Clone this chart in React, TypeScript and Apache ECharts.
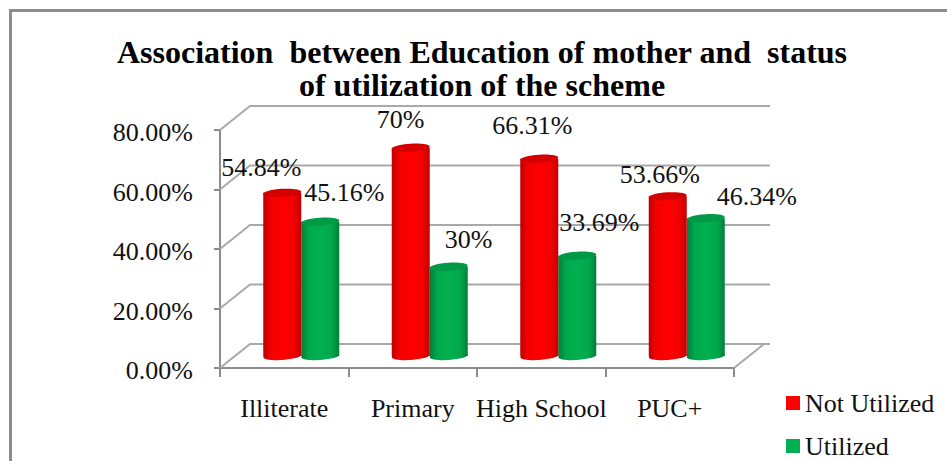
import React, { useEffect, useRef } from "react";
import * as echarts from "echarts";

const categories = ["Illiterate", "Primary", "High School", "PUC+"];
const notUtilized = [54.84, 70, 66.31, 53.66];
const utilized = [45.16, 30, 33.69, 46.34];
const wallTicks = [0, 20, 40, 60, 80];

const FONT = '"Liberation Serif", "Times New Roman", serif';
const DEPTH_X = 30;
const DEPTH_Y = 24;
const BAR_W = 38;
const BAR_NUDGE = 2;
const notUtilizedLabelShift = [[-59, -25], [-32, -28], [-45, -33], [-46, -22]];
const utilizedLabelShift = [[-14, -29], [-2, -27], [-16, -33], [13, -22]];

function wallItem(params: any, api: any) {
  const v = api.value(0);
  const cs = params.coordSys;
  const y = api.coord([0, v])[1];
  const x0 = cs.x;
  const x1 = cs.x + cs.width;
  const lineStyle = { stroke: "#A9A9A9", lineWidth: 2, fill: "none" };
  const children: any[] = [
    {
      type: "polyline",
      shape: { points: [[x0, y], [x0 + DEPTH_X, y - DEPTH_Y], [x1 + DEPTH_X + 6, y - DEPTH_Y]] },
      style: lineStyle,
    },
  ];
  if (v === 0) {
    children.push({
      type: "polyline",
      shape: { points: [[x1, y], [x1 + DEPTH_X, y - DEPTH_Y]] },
      style: lineStyle,
    });
  }
  return { type: "group", children };
}

function cylinder(side: number, edge: string, soft: string, mid: string, top: string, labelShift: number[][]) {
  return (params: any, api: any) => {
    const idx = api.value(0);
    const val = api.value(1);
    const base = api.coord([idx, 0]);
    const head = api.coord([idx, val]);
    const labelAnchor = base[0] + DEPTH_X / 2 + (side * BAR_W) / 2;
    const cx = labelAnchor + BAR_NUDGE;
    const by = base[1] - DEPTH_Y / 2;
    const ty = head[1] - DEPTH_Y / 2;
    const grad = new echarts.graphic.LinearGradient(0, 0, 1, 0, [
      { offset: 0, color: edge },
      { offset: 0.2, color: soft },
      { offset: 0.5, color: mid },
      { offset: 0.8, color: soft },
      { offset: 1, color: edge },
    ]);
    const shift = labelShift[params.dataIndex];
    return {
      type: "group",
      children: [
        {
          type: "ellipse",
          x: cx,
          y: by,
          rotation: 0.06,
          shape: { cx: 0, cy: 0, rx: BAR_W / 2, ry: 4 },
          style: { fill: grad },
        },
        {
          type: "rect",
          shape: { x: cx - BAR_W / 2, y: ty, width: BAR_W, height: by - ty },
          style: { fill: grad },
        },
        {
          type: "ellipse",
          x: cx,
          y: ty,
          rotation: 0.06,
          shape: { cx: 0, cy: 0, rx: BAR_W / 2, ry: 4 },
          style: { fill: top },
        },
        {
          type: "text",
          x: labelAnchor + shift[0],
          y: ty + shift[1],
          style: {
            text: `${val}%`,
            font: `26px ${FONT}`,
            fill: "#111",
            textAlign: "left",
            textVerticalAlign: "middle",
          },
        },
      ],
    };
  };
}

export default function App() {
  const ref = useRef<HTMLDivElement>(null);
  useEffect(() => {
    const chart = echarts.init(ref.current!, null, { renderer: "svg" });
    chart.setOption({
      animation: false,
      backgroundColor: "#fff",
      textStyle: { fontFamily: FONT },
      title: {
        text: "Association  between Education of mother and  status\nof utilization of the scheme",
        left: 477,
        top: 30,
        textAlign: "center",
        textStyle: { fontFamily: FONT, fontWeight: "bold", fontSize: 32, lineHeight: 33, color: "#000" },
      },
      legend: {
        orient: "vertical",
        left: 786,
        top: 388,
        height: 90,
        padding: 0,
        itemWidth: 14,
        itemHeight: 14,
        itemGap: 13,
        data: [
          { name: "Not Utilized", icon: "rect", itemStyle: { color: "#FF0000" } },
          { name: "Utilized", icon: "rect", itemStyle: { color: "#00B050" } },
        ],
        textStyle: { fontFamily: FONT, fontSize: 26, color: "#111", lineHeight: 30 },
      },
      grid: { left: 220, top: 130, width: 514, height: 238 },
      xAxis: {
        type: "category",
        data: categories,
        boundaryGap: true,
        axisLine: { lineStyle: { color: "#8C8C8C", width: 2 } },
        axisTick: { show: true, length: 9, lineStyle: { color: "#8C8C8C", width: 2 } },
        axisLabel: { fontFamily: FONT, fontSize: 26, color: "#111", margin: 27, interval: 0 },
      },
      yAxis: {
        type: "value",
        min: 0,
        max: 80,
        interval: 20,
        axisLine: { show: true, lineStyle: { color: "#8C8C8C", width: 2 } },
        axisTick: { show: true, length: 6, lineStyle: { color: "#8C8C8C", width: 2 } },
        splitLine: { show: false },
        axisLabel: {
          fontFamily: FONT,
          fontSize: 26,
          color: "#111",
          margin: 27,
          formatter: (v: number) => `{a|${v.toFixed(2)}%}`,
          rich: {
            a: { fontFamily: FONT, fontSize: 26, color: "#111", padding: [5, 0, 0, 0] },
          },
        },
      },
      graphic: [
        {
          type: "polyline",
          shape: { points: [[10.5, 461], [10.5, 10.5], [947, 10.5]] },
          style: { stroke: "#8C8C8C", lineWidth: 3, fill: "none" },
        },
      ],
      series: [
        {
          type: "custom",
          name: "walls",
          silent: true,
          z: 1,
          data: wallTicks.map((v) => [v]),
          encode: { y: 0 },
          renderItem: wallItem,
        },
        {
          type: "custom",
          name: "Not Utilized",
          z: 3,
          itemStyle: { color: "#FF0000" },
          data: notUtilized.map((v, i) => [i, v]),
          encode: { x: 0, y: 1 },
          renderItem: cylinder(-1, "#C00000", "#F20000", "#FF0000", "#D40000", notUtilizedLabelShift),
        },
        {
          type: "custom",
          name: "Utilized",
          z: 2,
          itemStyle: { color: "#00B050" },
          data: utilized.map((v, i) => [i, v]),
          encode: { x: 0, y: 1 },
          renderItem: cylinder(1, "#007E3C", "#00A84C", "#00B050", "#009A46", utilizedLabelShift),
        },
      ],
    });
    return () => chart.dispose();
  }, []);
  return <div ref={ref} style={{ position: "absolute", left: 0, top: 0, width: 947, height: 461 }} />;
}
